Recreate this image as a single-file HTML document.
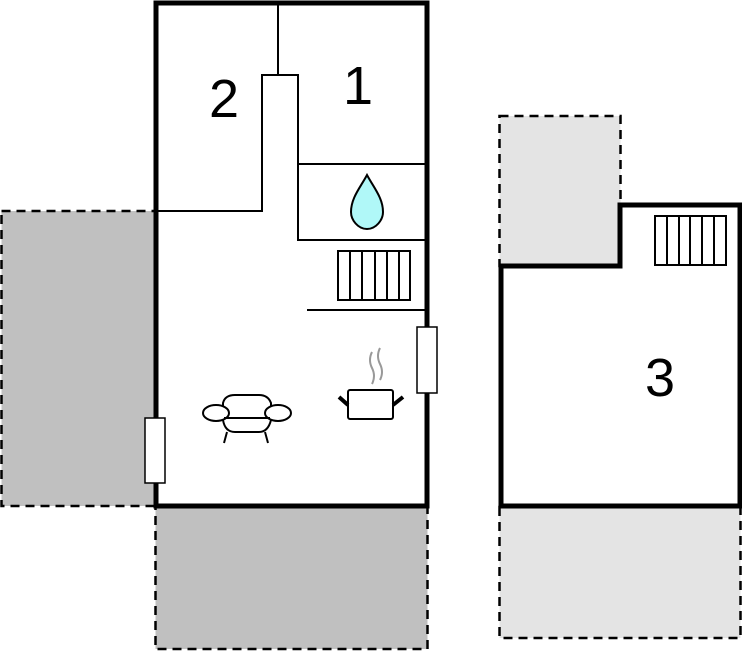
<!DOCTYPE html>
<html><head><style>html,body{margin:0;padding:0;background:#fff;}svg{display:block}</style></head>
<body>
<svg width="742" height="652" viewBox="0 0 742 652" xmlns="http://www.w3.org/2000/svg">
<g stroke="#000" stroke-width="2.5" stroke-dasharray="9,6">
<rect x="1.5" y="211" width="154" height="295" fill="#c0c0c0"/>
<rect x="155.5" y="507" width="272" height="142" fill="#c0c0c0"/>
<rect x="499.5" y="116" width="121" height="150" fill="#e4e4e4"/>
<rect x="499.5" y="507" width="241" height="131" fill="#e4e4e4"/>
</g>
<rect x="156" y="3" width="271" height="503" fill="#fff" stroke="#000" stroke-width="5"/>
<path d="M501,506 V266 H620 V205 H740 V506 Z" fill="#fff" stroke="#000" stroke-width="5"/>
<g fill="none" stroke="#000" stroke-width="2">
<path d="M278,3 V75"/>
<path d="M156,211 H262 V75 H298 V240 H427"/>
<path d="M298,164 H427"/>
<path d="M307,310 H427"/>
<rect x="338" y="251" width="72" height="49"/>
<path d="M350,251V300M362,251V300M375,251V300M387,251V300M399,251V300"/>
<rect x="655" y="216" width="71" height="49"/>
<path d="M667,216V265M679,216V265M690,216V265M702,216V265M714,216V265"/>
</g>
<rect x="417" y="327" width="20" height="66" fill="#fff" stroke="#000" stroke-width="1.5"/>
<rect x="145" y="418" width="20" height="65" fill="#fff" stroke="#000" stroke-width="1.5"/>
<path d="M367,175 C360,188 351,198 351,212 C351,220 358,229 367,229 C376,229 383,220 383,212 C383,198 374,188 367,175 Z" fill="#b0f8f8" stroke="#000" stroke-width="2"/>
<g fill="#fff" stroke="#000" stroke-width="2">
<path d="M223,403 Q225,395 235,395 H259 Q268,395 271,403 V420 Q268,432 259,432 H235 Q225,432 223,420 Z"/>
<ellipse cx="216" cy="413" rx="13" ry="8"/>
<ellipse cx="278" cy="413" rx="13" ry="8"/>
<path d="M224,418 H270" fill="none"/>
<path d="M227,432 L224,443 M265,432 L268,443" fill="none"/>
<rect x="348" y="390" width="45" height="29" rx="2"/>
</g>
<path d="M339,397 L348,405 M403,397 L393,405" stroke="#000" stroke-width="4"/>
<path d="M372,352 Q368,360 372,368 Q376,376 372,384 M380,348 Q376,356 380,364 Q384,372 380,380" fill="none" stroke="#999" stroke-width="2"/>
<g font-family="Liberation Sans, sans-serif" font-size="54" fill="#000" text-anchor="middle">
<text x="224" y="117">2</text>
<text x="358" y="104">1</text>
<text x="660" y="396">3</text>
</g>
</svg>
</body></html>
